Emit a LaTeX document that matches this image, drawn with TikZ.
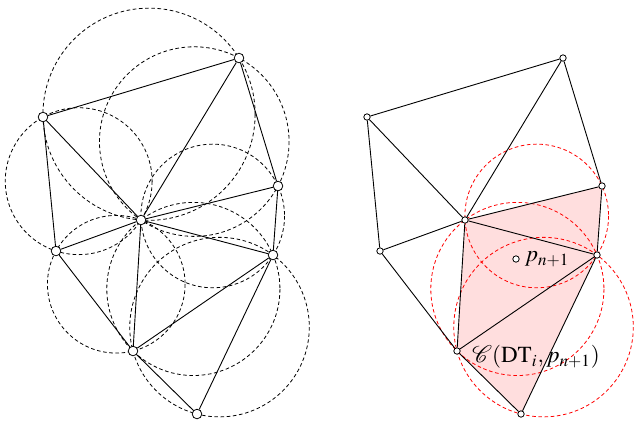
\documentclass[tikz,border=0pt]{standalone}
\usepackage{amsmath,amssymb}
\usepackage{mathptmx}
\usepackage{mathrsfs}
\usepackage{tikz}
\usetikzlibrary{positioning}

\begin{document}
\begin{tikzpicture}[
  x=0.5pt, y=-0.5pt,
  font=\fontsize{11.5}{13}\selectfont,
  vtx/.style={draw, circle, fill=white, inner sep=0pt, minimum size=4.8pt},
  vtxs/.style={draw, circle, fill=white, inner sep=0pt, minimum size=3.2pt},
  edge/.style={line width=0.45pt},
  circ/.style={dash pattern=on 1.8pt off 1.3pt, line width=0.4pt},
  rcirc/.style={circ, red}
]
\useasboundingbox (0,0) rectangle (636,420);
% left triangulation with its circumcircles
\draw[circ] (149.05,114.22) circle[radius=106.09];
\draw[circ] (194.26,141.58) circle[radius=94.80];
\draw[circ] (212.71,215.95) circle[radius=71.82];
\draw[circ] (78.69,181.17) circle[radius=73.43];
\draw[circ] (116.27,284.23) circle[radius=68.83];
\draw[circ] (193.36,288.94) circle[radius=86.57];
\draw[circ] (219.53,327.10) circle[radius=89.77];
\node[vtx] (la) at (43,117) {};
\node[vtx] (lb) at (239,58) {};
\node[vtx] (lc) at (278,186) {};
\node[vtx] (ld) at (141,220) {};
\node[vtx] (le) at (56,251) {};
\node[vtx] (lf) at (273,255) {};
\node[vtx] (lg) at (133,351) {};
\node[vtx] (lh) at (197,414) {};
\draw[edge] (la) -- (lb);
\draw[edge] (la) -- (ld);
\draw[edge] (la) -- (le);
\draw[edge] (lb) -- (ld);
\draw[edge] (lb) -- (lc);
\draw[edge] (lc) -- (ld);
\draw[edge] (lc) -- (lf);
\draw[edge] (ld) -- (lf);
\draw[edge] (ld) -- (le);
\draw[edge] (ld) -- (lg);
\draw[edge] (le) -- (lg);
\draw[edge] (lf) -- (lg);
\draw[edge] (lg) -- (lh);
\draw[edge] (lh) -- (lf);
% right triangulation, conflict region
\coordinate (ra0) at (367,117);
\coordinate (rb0) at (563,58);
\coordinate (rc0) at (602,186);
\coordinate (rd0) at (465,220);
\coordinate (re0) at (380,251);
\coordinate (rf0) at (597,255);
\coordinate (rg0) at (457,351);
\coordinate (rh0) at (521,414);
\fill[red!13] (rd0) -- (rc0) -- (rf0) -- (rh0) -- (rg0) -- cycle;
\draw[rcirc] (536.71,215.95) circle[radius=71.82];
\draw[rcirc] (517.36,288.94) circle[radius=86.57];
\draw[rcirc] (543.53,327.10) circle[radius=89.77];
\node[vtxs] (ra) at (ra0) {};
\node[vtxs] (rb) at (rb0) {};
\node[vtxs] (rc) at (rc0) {};
\node[vtxs] (rd) at (rd0) {};
\node[vtxs] (re) at (re0) {};
\node[vtxs] (rf) at (rf0) {};
\node[vtxs] (rg) at (rg0) {};
\node[vtxs] (rh) at (rh0) {};
\draw[edge] (ra) -- (rb);
\draw[edge] (ra) -- (rd);
\draw[edge] (ra) -- (re);
\draw[edge] (rb) -- (rd);
\draw[edge] (rb) -- (rc);
\draw[edge] (rc) -- (rd);
\draw[edge] (rc) -- (rf);
\draw[edge] (rd) -- (rf);
\draw[edge] (rd) -- (re);
\draw[edge] (rd) -- (rg);
\draw[edge] (re) -- (rg);
\draw[edge] (rf) -- (rg);
\draw[edge] (rg) -- (rh);
\draw[edge] (rh) -- (rf);
\node[vtxs] (pnew) at (516,259) {};
\node[right=1.5pt of pnew, inner sep=1pt] (plbl) {$p_{n+1}$};
\node[inner sep=1pt] (clbl) at (536,357) {$\mathscr{C}(\mathrm{DT}_i,p_{n+1})$};
\end{tikzpicture}
\end{document}
